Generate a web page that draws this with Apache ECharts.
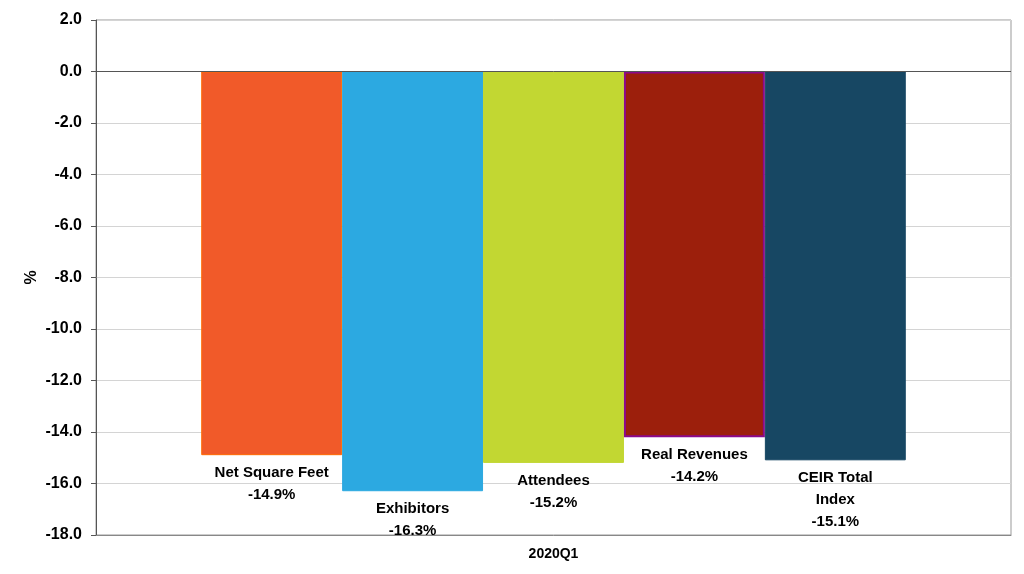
<!DOCTYPE html>
<html>
<head>
<meta charset="utf-8">
<script src="https://cdn.jsdelivr.net/npm/echarts@6/dist/echarts.min.js"></script>
<style>html,body{margin:0;padding:0;background:#fff}#c{width:1024px;height:574px}</style>
</head>
<body>
<div id="c"></div>
<script>
const categories = ['2020Q1'];
const seriesNames = ['Net Square Feet', 'Exhibitors', 'Attendees', 'Real Revenues', 'CEIR Total Index'];
const labelNames = ['Net Square Feet', 'Exhibitors', 'Attendees', 'Real Revenues', 'CEIR Total\nIndex'];
const values = [-14.9, -16.3, -15.2, -14.2, -15.1];
const colors = ['#F15A29', '#2CA9E1', '#C2D732', '#9C1F0C', '#174763'];
const borderColors = ['#FF6A00', '#2CA9E1', '#C2D732', '#8B0A8B', '#174763'];
const yTicks = { min: -18, max: 2, interval: 2 };

const font = 'Liberation Sans, Arial, sans-serif';
const chart = echarts.init(document.getElementById('c'));
const series = seriesNames.map((name, i) => ({
  name: name,
  type: 'bar',
  data: [values[i]],
  barGap: '0%',
  barCategoryGap: '23%',
  itemStyle: { color: colors[i], borderColor: borderColors[i], borderWidth: i === 3 ? 2 : 1 },
  label: {
    show: true,
    position: 'bottom',
    distance: 7,
    formatter: () => labelNames[i] + '\n' + values[i].toFixed(1) + '%',
    color: '#000',
    fontFamily: font,
    fontSize: 15,
    fontWeight: 'bold',
    lineHeight: 22,
    align: 'center'
  },
  markLine: i === 0 ? {
    silent: true, symbol: 'none', label: { show: false },
    lineStyle: { color: '#555', width: 1, type: 'solid' },
    data: [{ yAxis: 0 }]
  } : undefined,
  z: 3
}));

chart.setOption({
  animation: false,
  grid: { left: 96, right: 13, top: 20, bottom: 39, show: true, borderColor: '#999', borderWidth: 1 },
  xAxis: {
    type: 'category',
    data: categories,
    axisLine: { onZero: false, lineStyle: { color: '#888', width: 1 } },
    axisTick: { show: false },
    axisLabel: { color: '#000', fontFamily: font, fontSize: 14, fontWeight: 'bold', margin: 12 }
  },
  yAxis: {
    type: 'value',
    min: yTicks.min, max: yTicks.max, interval: yTicks.interval,
    name: '%',
    nameLocation: 'middle',
    nameGap: 56,
    nameMoveOverlap: false,
    nameRotate: 90,
    nameTextStyle: { color: '#000', fontFamily: font, fontSize: 16, fontWeight: 'bold' },
    axisLine: { show: true, lineStyle: { color: '#555', width: 1 } },
    axisTick: { show: true, length: 5, lineStyle: { color: '#555' } },
    axisLabel: { color: '#000', fontFamily: font, fontSize: 16, fontWeight: 'bold', margin: 14, formatter: v => v.toFixed(1) },
    splitLine: { show: true, lineStyle: { color: '#d4d4d4', width: 1 } }
  },
  series: series
});
</script>
</body>
</html>
